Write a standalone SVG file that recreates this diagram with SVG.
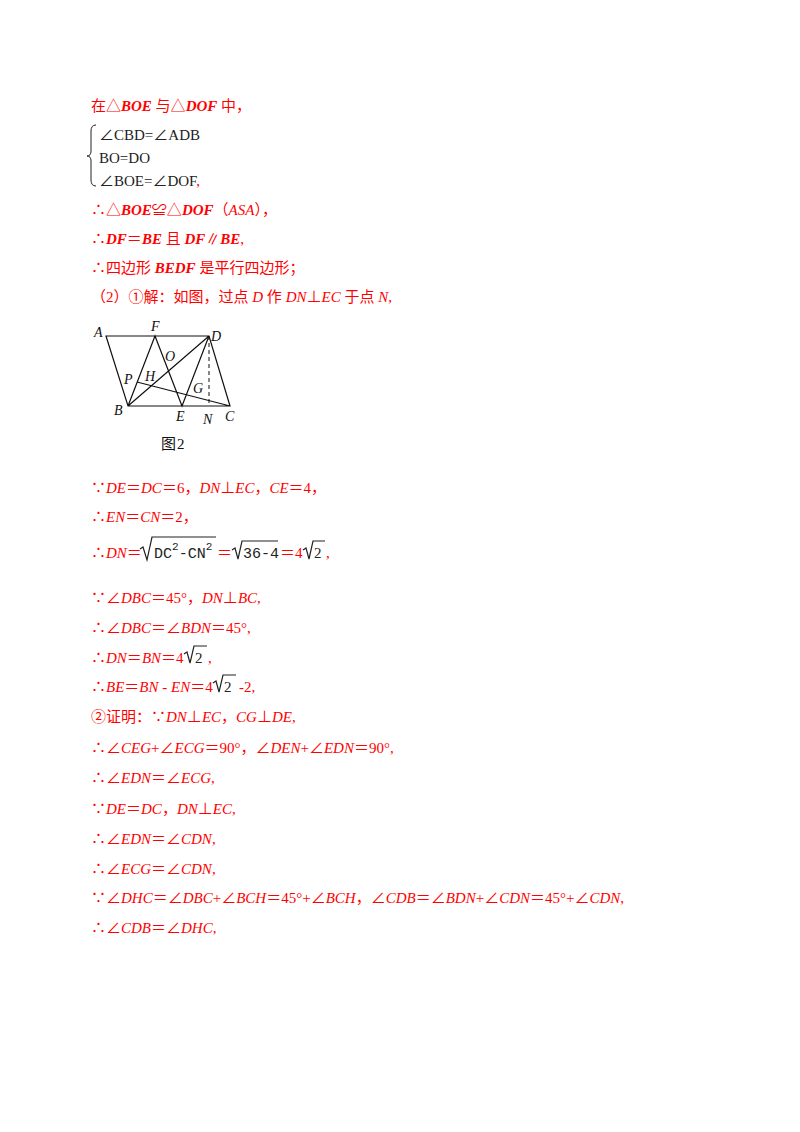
<svg xmlns="http://www.w3.org/2000/svg" width="800" height="1132" viewBox="0 0 800 1132">
<style>
text{font-family:"Liberation Serif","Noto Sans CJK SC",serif;font-size:15px}
.r{fill:#ff0000}
.k{fill:#222;font-size:15px}
.i{font-style:italic}
.b{font-weight:bold;font-style:italic}
.m{font-family:"Liberation Mono",monospace;fill:#222;font-size:15px}
.f{stroke:#111;stroke-width:1.2;fill:none}
.lb{font-style:italic;fill:#111;font-size:14px}
</style>
<rect width="800" height="1132" fill="#fff"/>
<g id="text">
<text class="r" x="91" y="111">在△<tspan class="b">BOE</tspan> 与△<tspan class="b">DOF</tspan> 中，</text>
<path d="M96 125 Q91 125 91 131 L91 151 Q91 156 87 156 Q91 156 91 161 L91 180 Q91 186 96 186" fill="none" stroke="#222"/>
<text class="k" x="99" y="140">∠CBD=∠ADB</text>
<text class="k" x="99" y="163">BO=DO</text>
<text class="k" x="99" y="186">∠BOE=∠DOF<tspan class="r">,</tspan></text>
<text class="r" x="91" y="215">∴△<tspan class="b">BOE</tspan>≌△<tspan class="b">DOF</tspan>（<tspan class="i">ASA</tspan>），</text>
<text class="r" x="91" y="244">∴<tspan class="b">DF</tspan>＝<tspan class="b">BE</tspan> 且 <tspan class="b">DF</tspan>∥<tspan class="b">BE</tspan>,</text>
<text class="r" x="91" y="273">∴四边形 <tspan class="b">BEDF</tspan> 是平行四边形；</text>
<text class="r" x="91" y="302">（2）①解：如图，过点 <tspan class="i">D</tspan> 作 <tspan class="i">DN</tspan>⊥<tspan class="i">EC</tspan> 于点 <tspan class="i">N</tspan>,</text>
<text class="r" x="91" y="493">∵<tspan class="i">DE</tspan>＝<tspan class="i">DC</tspan>＝6，<tspan class="i">DN</tspan>⊥<tspan class="i">EC</tspan>，<tspan class="i">CE</tspan>＝4，</text>
<text class="r" x="91" y="522">∴<tspan class="i">EN</tspan>＝<tspan class="i">CN</tspan>＝2，</text>
<text class="r" x="91" y="558">∴<tspan class="i">DN</tspan>＝</text>
<path d="M140 549 L143 547 L147 560 L152 537 L216 537" fill="none" stroke="#222" stroke-width="1.2"/>
<text class="m" x="154" y="558">DC<tspan dy="-8" font-size="11">2</tspan><tspan dy="8">-CN</tspan><tspan dy="-8" font-size="11">2</tspan></text>
<text class="r" x="217" y="558">＝</text>
<path d="M232 550 L235 548 L238 559 L242 541 L278 541" fill="none" stroke="#222" stroke-width="1.2"/>
<text class="m" x="243" y="558">36-4</text>
<text class="r" x="280" y="558">＝4</text>
<path d="M303 550 L306 548 L309 559 L313 541 L325 541" fill="none" stroke="#222" stroke-width="1.2"/>
<text class="k" x="314" y="558" font-family="Liberation Sans">2</text>
<text class="r" x="326" y="558">,</text>
<text class="r" x="91" y="603">∵∠<tspan class="i">DBC</tspan>＝45°，<tspan class="i">DN</tspan>⊥<tspan class="i">BC</tspan>,</text>
<text class="r" x="91" y="633">∴∠<tspan class="i">DBC</tspan>＝∠<tspan class="i">BDN</tspan>＝45°,</text>
<text class="r" x="91" y="663">∴<tspan class="i">DN</tspan>＝<tspan class="i">BN</tspan>＝4</text>
<path d="M184 654 L187 652 L190 663 L194 646 L207 646" fill="none" stroke="#222" stroke-width="1.2"/>
<text class="k" x="195" y="663" font-family="Liberation Sans">2</text>
<text class="r" x="208" y="663">,</text>
<text class="r" x="91" y="692">∴<tspan class="i">BE</tspan>＝<tspan class="i">BN</tspan> - <tspan class="i">EN</tspan>＝4</text>
<path d="M213 683 L216 681 L219 692 L223 675 L236 675" fill="none" stroke="#222" stroke-width="1.2"/>
<text class="k" x="224" y="692" font-family="Liberation Sans">2</text>
<text class="r" x="239" y="692">-2,</text>
<text class="r" x="91" y="722">②证明：∵<tspan class="i">DN</tspan>⊥<tspan class="i">EC</tspan>，<tspan class="i">CG</tspan>⊥<tspan class="i">DE</tspan>,</text>
<text class="r" x="91" y="753">∴∠<tspan class="i">CEG</tspan>+∠<tspan class="i">ECG</tspan>＝90°，∠<tspan class="i">DEN</tspan>+∠<tspan class="i">EDN</tspan>＝90°,</text>
<text class="r" x="91" y="783">∴∠<tspan class="i">EDN</tspan>＝∠<tspan class="i">ECG</tspan>,</text>
<text class="r" x="91" y="814">∵<tspan class="i">DE</tspan>＝<tspan class="i">DC</tspan>，<tspan class="i">DN</tspan>⊥<tspan class="i">EC</tspan>,</text>
<text class="r" x="91" y="844">∴∠<tspan class="i">EDN</tspan>＝∠<tspan class="i">CDN</tspan>,</text>
<text class="r" x="91" y="874">∴∠<tspan class="i">ECG</tspan>＝∠<tspan class="i">CDN</tspan>,</text>
<text class="r" x="91" y="903">∵∠<tspan class="i">DHC</tspan>＝∠<tspan class="i">DBC</tspan>+∠<tspan class="i">BCH</tspan>＝45°+∠<tspan class="i">BCH</tspan>，∠<tspan class="i">CDB</tspan>＝∠<tspan class="i">BDN</tspan>+∠<tspan class="i">CDN</tspan>＝45°+∠<tspan class="i">CDN</tspan>,</text>
<text class="r" x="91" y="933">∴∠<tspan class="i">CDB</tspan>＝∠<tspan class="i">DHC</tspan>,</text>
</g>
<g id="figure">
<path class="f" d="M106 336 L209 336 L230 406 L128 406 Z M128 406 L155 336 L182 406 L209 336 M128 406 L209 336 M137 382 L230 406"/>
<line x1="209" y1="336" x2="209" y2="406" stroke="#111" stroke-dasharray="4,3"/>
<text class="lb" x="94" y="337">A</text>
<text class="lb" x="151" y="331">F</text>
<text class="lb" x="211" y="341">D</text>
<text class="lb" x="165" y="361">O</text>
<text class="lb" x="124" y="384">P</text>
<text class="lb" x="145" y="381">H</text>
<text class="lb" x="193" y="393">G</text>
<text class="lb" x="114" y="415">B</text>
<text class="lb" x="176" y="421">E</text>
<text class="lb" x="203" y="424">N</text>
<text class="lb" x="225" y="421">C</text>
<text x="161" y="449" font-size="14" fill="#111" font-family="Noto Sans CJK SC,sans-serif">图</text>
<text x="177" y="449" font-size="14" fill="#111">2</text>
</g>
</svg>
